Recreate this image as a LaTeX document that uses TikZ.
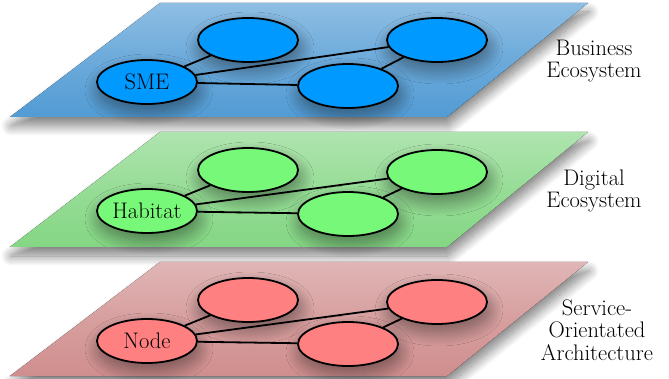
\documentclass[tikz,border=0pt]{standalone}
\usepackage{fontspec}
\usepackage{tikz}
\usetikzlibrary{positioning,shapes.geometric,shadows.blur}

\definecolor{bizplane}{RGB}{82,155,212}
\definecolor{bizsite}{RGB}{0,153,255}
\definecolor{digplane}{RGB}{132,214,132}
\definecolor{digsite}{RGB}{120,248,120}
\definecolor{soaplane}{RGB}{208,142,142}
\definecolor{soasite}{RGB}{255,128,128}

\begin{document}
\begin{tikzpicture}[x=1pt,y=-1pt,
    plane/.style={blur shadow={shadow xshift=1pt,shadow yshift=-9pt,shadow blur radius=10pt,shadow blur steps=16,shadow opacity=50}},
    site/.style={ellipse,draw,line width=1.8pt,minimum width=100pt,minimum height=44pt,inner xsep=-3pt,inner ysep=0pt,
                 font=\fontsize{22.5}{24}\selectfont,
                 blur shadow={shadow xshift=2pt,shadow yshift=-8pt,shadow blur radius=14pt,shadow blur steps=24,shadow opacity=45}},
    link/.style={line width=1.8pt},
    tag/.style={align=center,font=\fontsize{22.5}{22.5}\selectfont}]
  \useasboundingbox (0,0) rectangle (669,379);

  % business layer
  \fill[plane,top color=bizplane!65!white,bottom color=bizplane,middle color=bizplane!85!white] (160,3) -- (588,3) -- (447,117) -- (10,117) -- cycle;
  \node[site,fill=bizsite] (b1) at (147,82)  {SME};
  \node[site,fill=bizsite] (b2) at (248,40)  {};
  \node[site,fill=bizsite] (b3) at (437,40)  {};
  \node[site,fill=bizsite] (b4) at (348,86)  {};
  \draw[link] (b1) -- (b2)  (b1) -- (b3)  (b1) -- (b4)  (b4) -- (b3);
  \node[tag] (lbiz) at (594,61) {Business\\Ecosystem};

  % digital layer
  \fill[plane,top color=digplane!65!white,bottom color=digplane,middle color=digplane!85!white] (160,132) -- (588,132) -- (447,247) -- (10,247) -- cycle;
  \node[site,fill=digsite] (d1) at (147,211) {Habitat};
  \node[site,fill=digsite] (d2) at (248,170) {};
  \node[site,fill=digsite] (d3) at (437,172) {};
  \node[site,fill=digsite] (d4) at (348,214) {};
  \draw[link] (d1) -- (d2)  (d1) -- (d3)  (d1) -- (d4)  (d4) -- (d3);
  \node[tag] (ldig) at (594,191) {Digital\\Ecosystem};

  % service layer
  \fill[plane,top color=soaplane!65!white,bottom color=soaplane,middle color=soaplane!85!white] (160,262) -- (588,262) -- (447,376) -- (10,376) -- cycle;
  \node[site,fill=soasite] (s1) at (147,341) {Node};
  \node[site,fill=soasite] (s2) at (248,300) {};
  \node[site,fill=soasite] (s3) at (437,302) {};
  \node[site,fill=soasite] (s4) at (348,344) {};
  \draw[link] (s1) -- (s2)  (s1) -- (s3)  (s1) -- (s4)  (s4) -- (s3);
  \node[tag] (lsoa) at (597,330) {Service-\\Orientated\\Architecture};
\end{tikzpicture}
\end{document}
